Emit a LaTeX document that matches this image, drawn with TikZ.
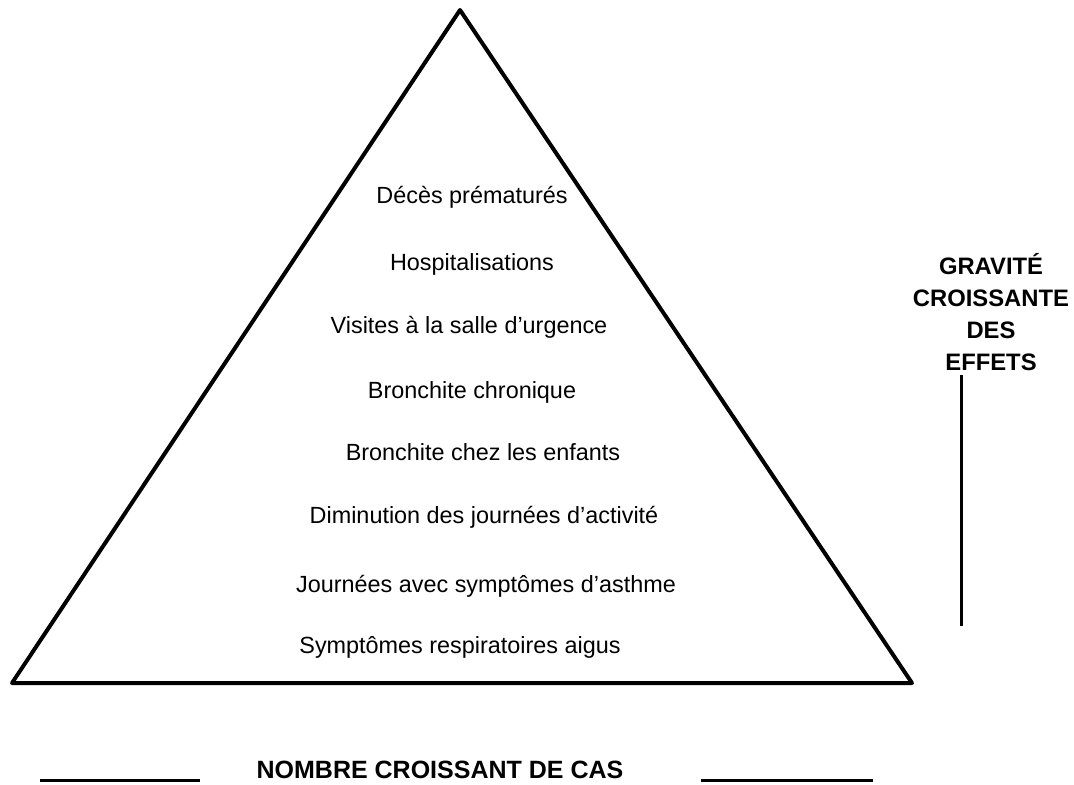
\documentclass[tikz,border=0pt]{standalone}
\usepackage{fontspec}
\setmainfont{Liberation Sans}
\usetikzlibrary{calc}
\usepackage{tkz-euclide}

\tikzset{
  effet/.style={anchor=base,inner sep=0pt,font=\fontsize{11.7}{14}\selectfont},
  titre/.style={inner sep=0pt,font=\fontsize{11.9}{16}\selectfont\bfseries,align=center},
  trait/.style={line width=1.5pt,color=black}
}

\begin{document}
\begin{tikzpicture}[x=0.5pt,y=-0.5pt]
\useasboundingbox (0,0) rectangle (1074,784);
\tkzSetUpLine[line width=2pt,color=black]

\tkzDefPoints{460/10/A,12/683/B,912/683/C}
\tkzDrawPolygon[line join=round](A,B,C)

% effets, du plus grave au plus frequent
\node[effet] (deces)      at (472,203) {Décès prématurés};
\node[effet] (hosp)       at (472,270) {Hospitalisations};
\node[effet] (visites)    at (469,333) {Visites à la salle d’urgence};
\node[effet] (bronchchro) at (472,398) {Bronchite chronique};
\node[effet] (bronchenf)  at (483,460) {Bronchite chez les enfants};
\node[effet] (diminution) at (484,523) {Diminution des journées d’activité};
\node[effet] (journees)   at (486,592) {Journées avec symptômes d’asthme};
\node[effet] (symptomes)  at (460,653) {Symptômes respiratoires aigus};

% axe horizontal
\node[titre,anchor=base,font=\fontsize{12.5}{16}\selectfont\bfseries] (nombre) at (440,778) {NOMBRE CROISSANT DE CAS};
\coordinate (g1) at (40,780);
\coordinate (g2) at (200,780);
\coordinate (d1) at (701,780);
\coordinate (d2) at (873,780);
\draw[trait] (g1) -- (g2);
\draw[trait] (d1) -- (d2);

% axe vertical
\node[titre,anchor=north] (gravite) at (991,253) {GRAVITÉ\\CROISSANTE\\DES\\EFFETS};
\coordinate (v1) at (961,375);
\coordinate (v2) at (961,626);
\draw[trait] (v1) -- (v2);

\end{tikzpicture}
\end{document}
